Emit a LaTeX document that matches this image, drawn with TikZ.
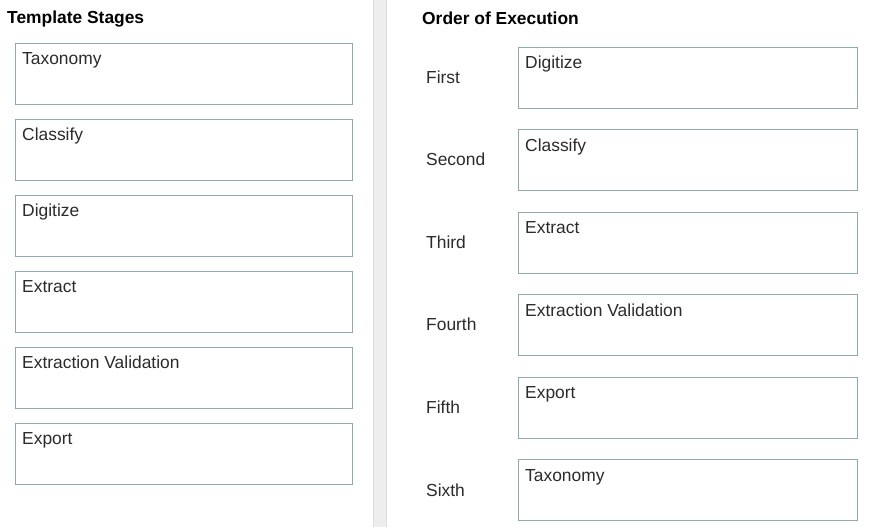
\documentclass[tikz,border=0pt]{standalone}
\usepackage{fontspec}
\setmainfont{Liberation Sans}
\definecolor{boxline}{HTML}{8FA9AE}
\definecolor{txt}{HTML}{2B2B2B}
\definecolor{sep}{HTML}{EEEEEE}
\definecolor{sepline}{HTML}{DDDDDD}
\begin{document}
\begin{tikzpicture}[x=1pt,y=-1pt,
  stagebox/.style={draw=boxline,line width=1pt,fill=white,minimum width=337pt,minimum height=61pt,anchor=north west,inner sep=0pt},
  orderbox/.style={draw=boxline,line width=1pt,fill=white,minimum width=339pt,minimum height=61pt,anchor=north west,inner sep=0pt},
  lbl/.style={anchor=base west,inner sep=0pt,text=txt,font=\fontsize{17.4}{20}\selectfont},
  ttl/.style={anchor=base west,inner sep=0pt,text=black,font=\fontsize{17.4}{20}\selectfont\bfseries}]
\useasboundingbox (0,0) rectangle (872,527);
\fill[white] (0,0) rectangle (872,527);
% separator
\fill[sep] (373,0) rectangle (387,527);
\draw[sepline,line width=0.8pt] (373.5,0) -- (373.5,527);
\draw[sepline,line width=0.8pt] (386.5,0) -- (386.5,527);
% titles
\node[ttl] (t1) at (7,24) {Template Stages};
\node[ttl] (t2) at (422,25) {Order of Execution};
% left boxes
\foreach \i/\t in {0/Taxonomy,1/Classify,2/Digitize,3/Extract,4/Extraction Validation,5/Export}{
  \node[stagebox] (s\i) at (14.5,43+76*\i) {};
  \node[lbl] (st\i) at (22,64+76*\i) {\t};
}
% right boxes
\foreach \i/\o/\t in {0/First/Digitize,1/Second/Classify,2/Third/Extract,3/Fourth/Extraction Validation,4/Fifth/Export,5/Sixth/Taxonomy}{
  \node[orderbox] (o\i) at (518,47+82.4*\i) {};
  \node[lbl] (ot\i) at (525,69+82.4*\i) {\t};
  \node[lbl] (ol\i) at (426,83+82.6*\i) {\o};
}
\end{tikzpicture}
\end{document}
